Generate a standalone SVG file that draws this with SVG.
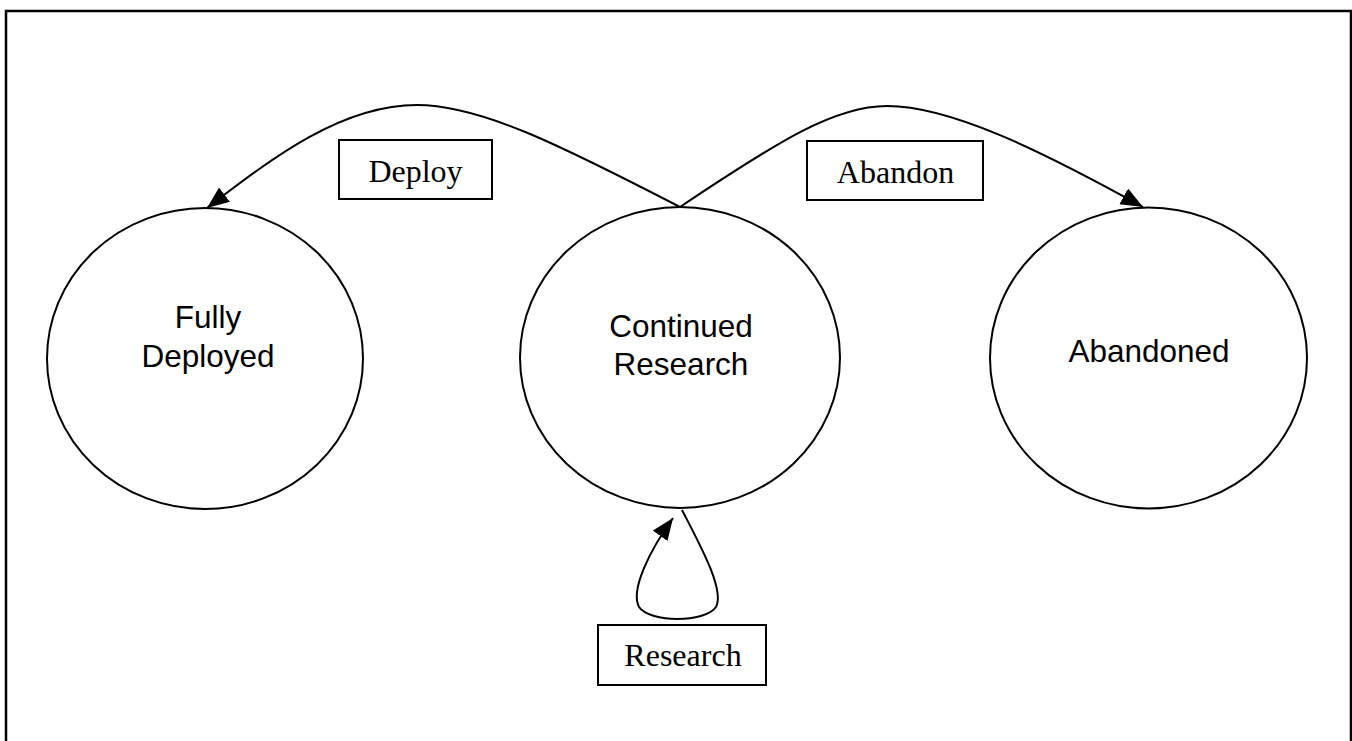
<svg xmlns="http://www.w3.org/2000/svg" width="1352" height="741" viewBox="0 0 1352 741">
<style>
.node{fill:none;stroke:#000;stroke-width:2}
.ntext{font-family:"Liberation Sans",Arial,sans-serif;font-size:31.5px;fill:#000;text-anchor:middle}
.lbox{fill:#fff;stroke:#000;stroke-width:2}
.ltext{font-family:"Liberation Serif","Times New Roman",serif;font-size:32px;fill:#000;text-anchor:middle}
.edge{fill:none;stroke:#000;stroke-width:2}
</style>
<defs>
<marker id="arr" markerUnits="userSpaceOnUse" markerWidth="26" markerHeight="20" refX="22" refY="9" orient="auto">
<path d="M0,0 L22,9 L0,18 Z" fill="#000"/>
</marker>
</defs>
<rect width="1352" height="741" fill="#fff"/>
<rect id="frame" x="6" y="11" width="1345" height="780" fill="none" stroke="#000" stroke-width="2.5"/>
<g id="connectors">
<path class="edge" d="M680,207 C560,145 480,105 417,105 C340,105 270,160 207,208" marker-end="url(#arr)"/>
<path class="edge" d="M680,207 C780,140 835,106 887,106 C950,106 1040,150 1143,207" marker-end="url(#arr)"/>
<path class="edge" d="M682,510 C700,545 725,590 716,607 C705,623 650,623 639,607 C630,590 650,550 673,518" marker-end="url(#arr)"/>
</g>
<g id="fully-deployed">
<ellipse class="node" cx="205" cy="358.5" rx="158" ry="150.5"/>
<text class="ntext" x="208" y="328">Fully</text>
<text class="ntext" x="208" y="367">Deployed</text>
</g>
<g id="continued-research">
<ellipse class="node" cx="680" cy="357.5" rx="160" ry="150.5"/>
<text class="ntext" x="681" y="337">Continued</text>
<text class="ntext" x="681" y="375">Research</text>
</g>
<g id="abandoned">
<ellipse class="node" cx="1148.5" cy="358" rx="158.5" ry="150.5"/>
<text class="ntext" x="1149" y="362">Abandoned</text>
</g>
<g id="label-deploy">
<rect class="lbox" x="339" y="140" width="153" height="59"/>
<text class="ltext" x="415.5" y="182">Deploy</text>
</g>
<g id="label-abandon">
<rect class="lbox" x="807" y="141" width="176" height="59"/>
<text class="ltext" x="895.5" y="183">Abandon</text>
</g>
<g id="label-research">
<rect class="lbox" x="598" y="625" width="168" height="60"/>
<text class="ltext" x="683" y="666">Research</text>
</g>
</svg>
